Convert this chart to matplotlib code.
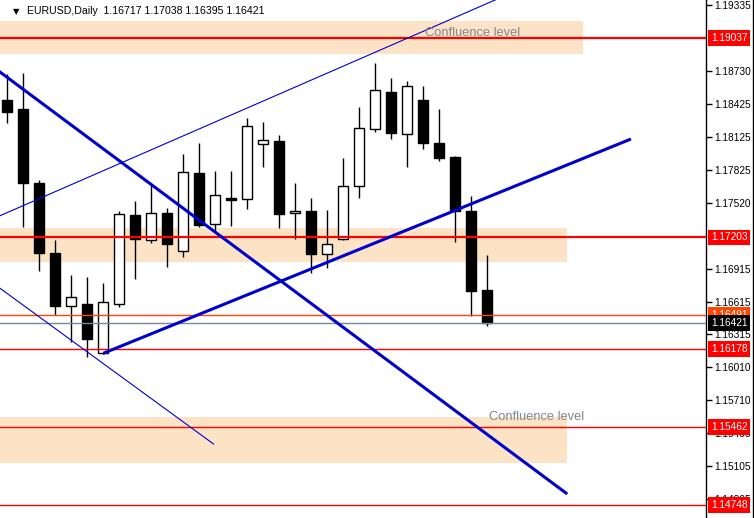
import matplotlib
matplotlib.use("Agg")
import matplotlib.pyplot as plt
from matplotlib.lines import Line2D
import numpy as np

# ---- data ----
opens = [1.18465, 1.18382, 1.17703, 1.17060, 1.16571, 1.16590, 1.16140, 1.16590, 1.17407, 1.17177,
         1.17425, 1.17076, 1.17795, 1.17324, 1.17565, 1.17559, 1.18058, 1.18089, 1.17425, 1.17446,
         1.17049, 1.17192, 1.17673, 1.18196, 1.18538, 1.18150, 1.18465, 1.18070, 1.17942, 1.17446,
         1.16717]
highs = [1.18704, 1.18710, 1.17731, 1.17180, 1.16859, 1.16840, 1.16785, 1.17446, 1.17538, 1.17685,
         1.17474, 1.17969, 1.18070, 1.17813, 1.17813, 1.18297, 1.18263, 1.18144, 1.17703, 1.17563,
         1.17455, 1.17930, 1.18401, 1.18805, 1.18667, 1.18639, 1.18594, 1.18382, 1.17954, 1.17584,
         1.17038]
lows = [1.18254, 1.17302, 1.16898, 1.16491, 1.16246, 1.16103, 1.16133, 1.16568, 1.16825, 1.17155,
        1.16935, 1.17027, 1.17302, 1.17265, 1.17308, 1.17467, 1.17853, 1.17293, 1.17186, 1.16874,
        1.16920, 1.17180, 1.17568, 1.18174, 1.18104, 1.17853, 1.18018, 1.17905, 1.17164, 1.16485,
        1.16395]
closes = [1.18358, 1.17700, 1.17058, 1.16577, 1.16654, 1.16268, 1.16608, 1.17416, 1.17186, 1.17425,
          1.17146, 1.17801, 1.17320, 1.17590, 1.17550, 1.18224, 1.18095, 1.17421, 1.17446, 1.17054,
          1.17140, 1.17673, 1.18208, 1.18557, 1.18165, 1.18591, 1.18073, 1.17935, 1.17446, 1.16714,
          1.16421]

# horizontal levels: price, colour, width
level_prices = [1.19037, 1.17203, 1.16491, 1.16421, 1.16178, 1.15462, 1.14748]
level_colors = ['#FF0000', '#FF0000', '#FF4500', '#778899', '#FF0000', '#FF0000', '#FF0000']
level_widths = [1.6, 1.6, 1.0, 1.0, 1.0, 1.0, 1.0]
level_box = ['#FF0000', '#FF0000', '#FF4500', '#000000', '#FF0000', '#FF0000', '#FF0000']

# confluence zones: (bottom price, top price, right end in bar index)
zone_low = [1.18890, 1.16981, 1.15135]
zone_high = [1.19190, 1.17290, 1.15555]
zone_right = [35.98, 34.98, 34.98]

# trend lines: (bar0, price0, bar1, price1)
trend_x0 = [0.0, 0.0, 0.0, 6.0]
trend_p0 = [1.17432, 1.18672, 1.16688, 1.16140]
trend_x1 = [30.0, 35.0, 12.92, 38.98]
trend_p1 = [1.19352, 1.14848, 1.15304, 1.18107]
trend_w = [0.8, 2.2, 0.8, 2.2]
trend_start = [-1.0, -1.0, -1.0, 6.0]
trend_end = [32.0, 35.0, 12.92, 38.98]

yticks = [1.19335, 1.18730, 1.18425, 1.18125, 1.17825, 1.17520, 1.16915, 1.16615,
          1.16315, 1.16010, 1.15710, 1.15405, 1.15105, 1.14805]

conf_text_x = [26.1, 30.1]
conf_text_y = [1.19053, 1.15530]

header = "EURUSD,Daily  1.16717 1.17038 1.16395 1.16421"

# ---- figure ----
W, H = 754, 518
fig = plt.figure(figsize=(W / 100, H / 100), dpi=100)
ax = fig.add_axes([0, 0, 706 / W, 1])
ax.set_xlim(-0.45625, 43.669)
ax.set_ylim(1.14628, 1.19383)
ax.set_facecolor('white')

# zones
for lo, hi, r in zip(zone_low, zone_high, zone_right):
    ax.fill_between([-1, r], lo, hi, color='#FDE3C5', lw=0, zorder=0.5)

# candles
idx = np.arange(len(opens))
ax.vlines(idx, lows, highs, color='black', lw=1.0, zorder=2)
for i, (o, c) in enumerate(zip(opens, closes)):
    fc = 'white' if c >= o else 'black'
    ax.bar(i, max(abs(c - o), 0.00002), bottom=min(o, c), width=0.65,
           facecolor=fc, edgecolor='black', linewidth=1.0, zorder=3)

# horizontal lines
for p, col, lw in zip(level_prices, level_colors, level_widths):
    ax.axhline(p, color=col, lw=lw, zorder=4)

# trend lines
for x0, p0, x1, p1, w, s, e in zip(trend_x0, trend_p0, trend_x1, trend_p1, trend_w, trend_start, trend_end):
    slope = (p1 - p0) / (x1 - x0)
    xs = np.array([s, e])
    ax.plot(xs, p0 + slope * (xs - x0), color='#0000CD', lw=w, zorder=5, solid_capstyle='butt')

# confluence texts
for tx, ty in zip(conf_text_x, conf_text_y):
    ax.text(tx, ty, "Confluence level", color='#7E8795', fontsize=9.3,
            family='Liberation Sans', ha='left', va='baseline', zorder=6)

# axis styling
for s in ['top', 'left', 'bottom']:
    ax.spines[s].set_visible(False)
ax.spines['right'].set_color('black')
ax.spines['right'].set_linewidth(1.0)
ax.set_xticks([])
ax.yaxis.tick_right()
ax.set_yticks(yticks)
ax.set_yticklabels([f"{v:.5f}" for v in yticks])
ax.tick_params(axis='y', direction='out', length=4, width=1, pad=2, labelsize=7.3, colors='black')
for lab in ax.get_yticklabels():
    lab.set_family('Liberation Sans')

# level boxes on the price axis
ytr = ax.get_yaxis_transform()
for k, (p, bc) in enumerate(zip(level_prices, level_box)):
    ax.text(1.0 + 5 / 706, p, f"{p:.5f}", transform=ytr, ha='left', va='center',
            color='white', fontsize=7.3, family='Liberation Sans', clip_on=False,
            zorder=10 + k,
            bbox=dict(boxstyle='square,pad=0.28', fc=bc, ec='none'))

# header
fig.text(13 / W, 1 - 12 / H, "▼", fontsize=6, color='black', va='center', ha='left', family='DejaVu Sans')
fig.text(27 / W, 1 - 11.5 / H, header, fontsize=7.6, color='black', va='center', ha='left',
         family='Liberation Sans')

# right border
fig.add_artist(Line2D([752.5 / W, 752.5 / W], [0, 1], color='black', lw=1.0, transform=fig.transFigure))

fig.savefig("out.png", dpi=100, facecolor='white')
